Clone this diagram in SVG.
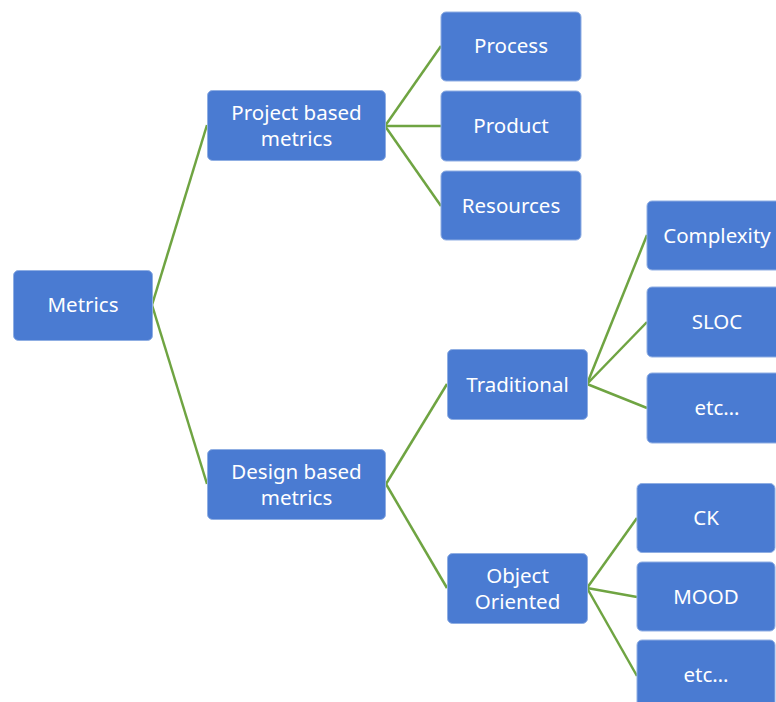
<svg xmlns="http://www.w3.org/2000/svg" width="776" height="702" viewBox="0 0 776 702">
<style>
.n rect{fill:#4A7BD2;stroke:#8FAEE3;stroke-width:1}
.n text{fill:#fff;font-family:"Noto Sans","Open Sans",sans-serif;font-size:20.5px;text-anchor:middle;dominant-baseline:central}
#edges line{stroke:#6FA442;stroke-width:2.5}
</style>
<rect width="776" height="702" fill="#fff"/>
<g id="edges">
<line x1="152" y1="305" x2="207" y2="125"/>
<line x1="152" y1="305" x2="207" y2="484"/>
<line x1="385" y1="126" x2="441" y2="46"/>
<line x1="385" y1="126" x2="441" y2="126"/>
<line x1="385" y1="126" x2="441" y2="206"/>
<line x1="386" y1="484" x2="447" y2="384"/>
<line x1="386" y1="484" x2="447" y2="588"/>
<line x1="587" y1="384" x2="647" y2="235"/>
<line x1="587" y1="384" x2="647" y2="322"/>
<line x1="587" y1="384" x2="647" y2="408"/>
<line x1="587" y1="588" x2="637" y2="518"/>
<line x1="587" y1="588" x2="637" y2="597"/>
<line x1="587" y1="588" x2="637" y2="676"/>
</g>
<g id="metrics" class="n"><rect x="13.5" y="270.5" width="139" height="70" rx="5"/><text x="83" y="304">Metrics</text></g>
<g id="project" class="n"><rect x="207.5" y="90.5" width="178" height="70" rx="5"/><text x="296.5" y="112">Project based</text><text x="296.5" y="138">metrics</text></g>
<g id="design" class="n"><rect x="207.5" y="449.5" width="178" height="70" rx="5"/><text x="296.5" y="471">Design based</text><text x="296.5" y="497">metrics</text></g>
<g id="process" class="n"><rect x="441" y="12" width="140" height="69" rx="5"/><text x="511" y="45">Process</text></g>
<g id="product" class="n"><rect x="441" y="91" width="140" height="70" rx="5"/><text x="511" y="125">Product</text></g>
<g id="resources" class="n"><rect x="441" y="171" width="140" height="69" rx="5"/><text x="511" y="205">Resources</text></g>
<g id="traditional" class="n"><rect x="447.5" y="349.5" width="140" height="70" rx="5"/><text x="517.5" y="384">Traditional</text></g>
<g id="oo" class="n"><rect x="447.5" y="553.5" width="140" height="70" rx="5"/><text x="517.5" y="575">Object</text><text x="517.5" y="601">Oriented</text></g>
<g id="complexity" class="n"><rect x="647" y="201" width="140" height="69" rx="5"/><text x="717" y="235">Complexity</text></g>
<g id="sloc" class="n"><rect x="647" y="287" width="140" height="70" rx="5"/><text x="717" y="321">SLOC</text></g>
<g id="etc1" class="n"><rect x="647" y="373" width="140" height="70" rx="5"/><text x="717" y="407">etc…</text></g>
<g id="ck" class="n"><rect x="637" y="483.5" width="138" height="69" rx="5"/><text x="706" y="517">CK</text></g>
<g id="mood" class="n"><rect x="637" y="562" width="138" height="69" rx="5"/><text x="706" y="596">MOOD</text></g>
<g id="etc2" class="n"><rect x="637" y="640" width="138" height="70" rx="5"/><text x="706" y="674">etc…</text></g>
</svg>
